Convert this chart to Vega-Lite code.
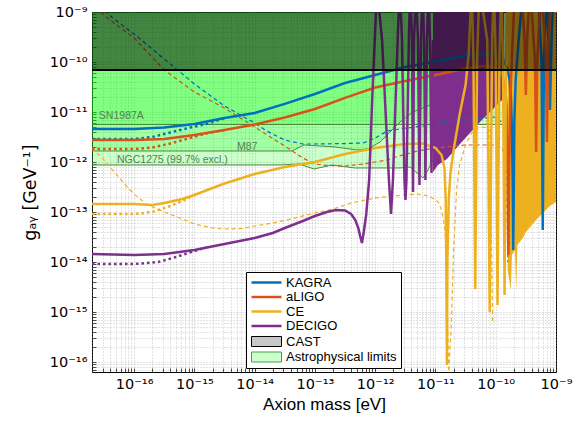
{
  "$schema": "https://vega.github.io/schema/vega-lite/v6.json",
  "width": 464,
  "height": 360,
  "autosize": {"type": "none"},
  "padding": {"left": 92, "top": 12, "right": 17, "bottom": 53},
  "config": {
    "font": "Liberation Sans",
    "view": {"stroke": "black", "strokeWidth": 1},
    "axis": {
      "labelFont": "DejaVu Sans", "labelFontSize": 14.5, "labelColor": "black",
      "titleFont": "DejaVu Sans", "titleFontSize": 17.5, "titleFontWeight": "normal", "titleColor": "black",
      "gridColor": "#9a9a9a", "gridDash": [1, 2], "gridWidth": 0.7, "gridOpacity": 0.8,
      "domain": false, "ticks": true, "tickSize": -4, "tickColor": "#222", "tickWidth": 0.8,
      "labelPadding": 9, "labelOverlap": false, "labelFlush": false, "labelBound": false
    }
  },
  "datasets": {
    "curves": [
      {"s":"KAGRA","v":"solid","m":2e-17,"g":4.57e-12},{"s":"KAGRA","v":"solid","m":1e-16,"g":4.57e-12},{"s":"KAGRA","v":"solid","m":3.16e-16,"g":4.9e-12},{"s":"KAGRA","v":"solid","m":1e-15,"g":5.75e-12},{"s":"KAGRA","v":"solid","m":3.16e-15,"g":7.59e-12},{"s":"KAGRA","v":"solid","m":1e-14,"g":9.55e-12},{"s":"KAGRA","v":"solid","m":3.16e-14,"g":1.45e-11},{"s":"KAGRA","v":"solid","m":1e-13,"g":2.29e-11},{"s":"KAGRA","v":"solid","m":3.16e-13,"g":3.8e-11},{"s":"KAGRA","v":"solid","m":1e-12,"g":5.5e-11},{"s":"KAGRA","v":"solid","m":3.16e-12,"g":7.94e-11},{"s":"KAGRA","v":"solid","m":1e-11,"g":1.02e-10},{"s":"KAGRA","v":"solid","m":3.16e-11,"g":1.35e-10},{"s":"KAGRA","v":"solid","m":6.31e-11,"g":1.45e-10},{"s":"KAGRA","v":"solid","m":1e-10,"g":1.41e-10},{"s":"KAGRA","v":"solid","m":1.26e-10,"g":1.2e-10},{"s":"KAGRA","v":"solid","m":1.41e-10,"g":1e-10},{"s":"KAGRA","v":"solid","m":1.58e-10,"g":6.92e-11},{"s":"KAGRA","v":"solid","m":1.7e-10,"g":4.37e-11},{"s":"KAGRA","v":"solid","m":1.78e-10,"g":2.19e-11},{"s":"KAGRA","v":"solid","m":1.86e-10,"g":4.37e-12},{"s":"KAGRA","v":"solid","m":1.91e-10,"g":4.37e-13},{"s":"KAGRA","v":"solid","m":1.95e-10,"g":1.74e-14},{"s":"KAGRA","v":"solid","m":2e-10,"g":4.37e-13},{"s":"KAGRA","v":"solid","m":2.04e-10,"g":6.92e-12},{"s":"KAGRA","v":"solid","m":2.14e-10,"g":4.37e-11},{"s":"KAGRA","v":"solid","m":2.4e-10,"g":2.75e-10},{"s":"KAGRA","v":"solid","m":2.63e-10,"g":1e-9},{"s":"KAGRA","v":"solid","m":3.16e-10,"g":3.16e-9},{"s":"KAGRA","v":"solid","m":5.01e-10,"g":3.16e-9},{"s":"KAGRA","v":"solid","m":5.75e-10,"g":1.1e-10},{"s":"KAGRA","v":"solid","m":6.03e-10,"g":4.37e-14},{"s":"KAGRA","v":"solid","m":6.31e-10,"g":1.1e-10},{"s":"KAGRA","v":"solid","m":7.08e-10,"g":3.16e-9},{"s":"KAGRA","v":"solid","m":7.41e-10,"g":4.37e-10},{"s":"KAGRA","v":"solid","m":7.94e-10,"g":1.1e-11},{"s":"KAGRA","v":"solid","m":8.51e-10,"g":4.37e-10},{"s":"KAGRA","v":"solid","m":9.33e-10,"g":3.16e-9},{"s":"KAGRA","v":"solid","m":1e-9,"g":3.16e-9},
      {"s":"KAGRA","v":"dotted","m":2e-17,"g":2.88e-12},{"s":"KAGRA","v":"dotted","m":1e-16,"g":2.88e-12},{"s":"KAGRA","v":"dotted","m":2e-16,"g":3.16e-12},{"s":"KAGRA","v":"dotted","m":3.98e-16,"g":3.89e-12},{"s":"KAGRA","v":"dotted","m":7.94e-16,"g":4.79e-12},{"s":"KAGRA","v":"dotted","m":1.58e-15,"g":5.75e-12},{"s":"KAGRA","v":"dotted","m":3.16e-15,"g":7.59e-12},
      {"s":"KAGRA","v":"dashed","m":2.82e-17,"g":1.38e-9},{"s":"KAGRA","v":"dashed","m":3.16e-17,"g":1.05e-9},{"s":"KAGRA","v":"dashed","m":6.31e-17,"g":5.5e-10},{"s":"KAGRA","v":"dashed","m":1e-16,"g":3.63e-10},{"s":"KAGRA","v":"dashed","m":3.16e-16,"g":1.15e-10},{"s":"KAGRA","v":"dashed","m":1e-15,"g":3.63e-11},{"s":"KAGRA","v":"dashed","m":3.16e-15,"g":1.32e-11},{"s":"KAGRA","v":"dashed","m":1e-14,"g":6.03e-12},{"s":"KAGRA","v":"dashed","m":1.58e-14,"g":4.17e-12},{"s":"KAGRA","v":"dashed","m":3.16e-14,"g":2.75e-12},{"s":"KAGRA","v":"dashed","m":6.31e-14,"g":2.29e-12},{"s":"KAGRA","v":"dashed","m":1e-13,"g":2.29e-12},{"s":"KAGRA","v":"dashed","m":3.16e-13,"g":2.34e-12},{"s":"KAGRA","v":"dashed","m":6.31e-13,"g":2.4e-12},{"s":"KAGRA","v":"dashed","m":1e-12,"g":3.02e-12},{"s":"KAGRA","v":"dashed","m":1.58e-12,"g":4.17e-12},{"s":"KAGRA","v":"dashed","m":2.51e-12,"g":4.57e-12},{"s":"KAGRA","v":"dashed","m":6.31e-12,"g":5.25e-12},{"s":"KAGRA","v":"dashed","m":1.58e-11,"g":6.31e-12},{"s":"KAGRA","v":"dashed","m":3.98e-11,"g":7.24e-12},{"s":"KAGRA","v":"dashed","m":1e-10,"g":7.94e-12},{"s":"KAGRA","v":"dashed","m":1.41e-10,"g":5.5e-12},{"s":"KAGRA","v":"dashed","m":1.58e-10,"g":3.47e-12},{"s":"KAGRA","v":"dashed","m":1.66e-10,"g":1.74e-14},
      {"s":"aLIGO","v":"solid","m":2e-17,"g":2.75e-12},{"s":"aLIGO","v":"solid","m":1e-16,"g":2.75e-12},{"s":"aLIGO","v":"solid","m":3.16e-16,"g":2.88e-12},{"s":"aLIGO","v":"solid","m":1e-15,"g":3.47e-12},{"s":"aLIGO","v":"solid","m":3.16e-15,"g":4.37e-12},{"s":"aLIGO","v":"solid","m":1e-14,"g":5.62e-12},{"s":"aLIGO","v":"solid","m":3.16e-14,"g":7.76e-12},{"s":"aLIGO","v":"solid","m":1e-13,"g":1.15e-11},{"s":"aLIGO","v":"solid","m":3.16e-13,"g":1.91e-11},{"s":"aLIGO","v":"solid","m":1e-12,"g":3.09e-11},{"s":"aLIGO","v":"solid","m":3.16e-12,"g":4.17e-11},{"s":"aLIGO","v":"solid","m":1e-11,"g":5.5e-11},{"s":"aLIGO","v":"solid","m":3.16e-11,"g":7.41e-11},{"s":"aLIGO","v":"solid","m":6.31e-11,"g":8.32e-11},{"s":"aLIGO","v":"solid","m":1e-10,"g":7.76e-11},{"s":"aLIGO","v":"solid","m":1.26e-10,"g":5.75e-11},{"s":"aLIGO","v":"solid","m":1.41e-10,"g":3.63e-11},{"s":"aLIGO","v":"solid","m":1.51e-10,"g":1.38e-11},{"s":"aLIGO","v":"solid","m":1.58e-10,"g":4.37e-13},{"s":"aLIGO","v":"solid","m":1.62e-10,"g":1.38e-14},{"s":"aLIGO","v":"solid","m":1.66e-10,"g":4.37e-13},{"s":"aLIGO","v":"solid","m":1.74e-10,"g":1.74e-11},{"s":"aLIGO","v":"solid","m":1.91e-10,"g":2.75e-10},{"s":"aLIGO","v":"solid","m":2.09e-10,"g":3.16e-9},{"s":"aLIGO","v":"solid","m":2.63e-10,"g":3.16e-9},{"s":"aLIGO","v":"solid","m":3.02e-10,"g":2.75e-10},{"s":"aLIGO","v":"solid","m":3.16e-10,"g":2.19e-11},{"s":"aLIGO","v":"solid","m":3.31e-10,"g":2.75e-10},{"s":"aLIGO","v":"solid","m":3.72e-10,"g":3.16e-9},{"s":"aLIGO","v":"solid","m":4.47e-10,"g":1.1e-10},{"s":"aLIGO","v":"solid","m":4.68e-10,"g":1.58e-12},{"s":"aLIGO","v":"solid","m":4.9e-10,"g":1.1e-10},{"s":"aLIGO","v":"solid","m":5.62e-10,"g":3.16e-9},{"s":"aLIGO","v":"solid","m":6.76e-10,"g":1.74e-10},{"s":"aLIGO","v":"solid","m":7.08e-10,"g":2.51e-12},{"s":"aLIGO","v":"solid","m":7.41e-10,"g":1.74e-10},{"s":"aLIGO","v":"solid","m":8.32e-10,"g":3.16e-9},{"s":"aLIGO","v":"solid","m":1e-9,"g":3.16e-9},
      {"s":"aLIGO","v":"dotted","m":2e-17,"g":1.82e-12},{"s":"aLIGO","v":"dotted","m":1e-16,"g":1.82e-12},{"s":"aLIGO","v":"dotted","m":2e-16,"g":1.95e-12},{"s":"aLIGO","v":"dotted","m":3.98e-16,"g":2.34e-12},{"s":"aLIGO","v":"dotted","m":7.94e-16,"g":2.95e-12},{"s":"aLIGO","v":"dotted","m":1.58e-15,"g":3.72e-12},{"s":"aLIGO","v":"dotted","m":3.16e-15,"g":4.37e-12},
      {"s":"aLIGO","v":"dashed","m":2.24e-17,"g":1.2e-9},{"s":"aLIGO","v":"dashed","m":3.98e-17,"g":6.92e-10},{"s":"aLIGO","v":"dashed","m":6.31e-17,"g":4.57e-10},{"s":"aLIGO","v":"dashed","m":1e-16,"g":3.02e-10},{"s":"aLIGO","v":"dashed","m":3.16e-16,"g":6.92e-11},{"s":"aLIGO","v":"dashed","m":1e-15,"g":2.51e-11},{"s":"aLIGO","v":"dashed","m":3.16e-15,"g":1.2e-11},{"s":"aLIGO","v":"dashed","m":1e-14,"g":5.01e-12},{"s":"aLIGO","v":"dashed","m":3.16e-14,"g":2.09e-12},{"s":"aLIGO","v":"dashed","m":6.31e-14,"g":1.2e-12},{"s":"aLIGO","v":"dashed","m":1e-13,"g":9.12e-13},{"s":"aLIGO","v":"dashed","m":1.58e-13,"g":8.51e-13},{"s":"aLIGO","v":"dashed","m":3.16e-13,"g":8.32e-13},{"s":"aLIGO","v":"dashed","m":6.31e-13,"g":9.12e-13},{"s":"aLIGO","v":"dashed","m":1e-12,"g":1e-12},{"s":"aLIGO","v":"dashed","m":1.58e-12,"g":1.1e-12},{"s":"aLIGO","v":"dashed","m":2.51e-12,"g":1.32e-12},{"s":"aLIGO","v":"dashed","m":5.01e-12,"g":1.66e-12},{"s":"aLIGO","v":"dashed","m":1e-11,"g":1.91e-12},{"s":"aLIGO","v":"dashed","m":3.16e-11,"g":2.19e-12},{"s":"aLIGO","v":"dashed","m":1e-10,"g":2.19e-12},{"s":"aLIGO","v":"dashed","m":1.26e-10,"g":1.91e-12},{"s":"aLIGO","v":"dashed","m":1.51e-10,"g":1.1e-12},{"s":"aLIGO","v":"dashed","m":1.58e-10,"g":1e-14},
      {"s":"CE","v":"solid","m":2e-17,"g":1.45e-13},{"s":"CE","v":"solid","m":1e-16,"g":1.45e-13},{"s":"CE","v":"solid","m":2e-16,"g":1.38e-13},{"s":"CE","v":"solid","m":3.16e-16,"g":1.51e-13},{"s":"CE","v":"solid","m":6.31e-16,"g":1.82e-13},{"s":"CE","v":"solid","m":1e-15,"g":2.19e-13},{"s":"CE","v":"solid","m":2e-15,"g":3.02e-13},{"s":"CE","v":"solid","m":3.16e-15,"g":3.72e-13},{"s":"CE","v":"solid","m":1e-14,"g":5.75e-13},{"s":"CE","v":"solid","m":3.16e-14,"g":7.94e-13},{"s":"CE","v":"solid","m":1e-13,"g":1e-12},{"s":"CE","v":"solid","m":3.16e-13,"g":1.45e-12},{"s":"CE","v":"solid","m":1e-12,"g":1.91e-12},{"s":"CE","v":"solid","m":3.16e-12,"g":2.29e-12},{"s":"CE","v":"solid","m":6.31e-12,"g":2.34e-12},{"s":"CE","v":"solid","m":1e-11,"g":1.91e-12},{"s":"CE","v":"solid","m":1.26e-11,"g":1.38e-12},{"s":"CE","v":"solid","m":1.41e-11,"g":7.59e-13},{"s":"CE","v":"solid","m":1.48e-11,"g":1.74e-13},{"s":"CE","v":"solid","m":1.51e-11,"g":1.1e-14},{"s":"CE","v":"solid","m":1.55e-11,"g":8.71e-17},{"s":"CE","v":"solid","m":1.58e-11,"g":1.1e-14},{"s":"CE","v":"solid","m":1.66e-11,"g":1.74e-13},{"s":"CE","v":"solid","m":1.78e-11,"g":6.31e-13},{"s":"CE","v":"solid","m":2e-11,"g":1.74e-12},{"s":"CE","v":"solid","m":2.51e-11,"g":8.71e-12},{"s":"CE","v":"solid","m":3.16e-11,"g":3.47e-11},{"s":"CE","v":"solid","m":3.55e-11,"g":1.38e-10},{"s":"CE","v":"solid","m":3.98e-11,"g":3.16e-9},{"s":"CE","v":"solid","m":4.27e-11,"g":1.1e-10},{"s":"CE","v":"solid","m":4.57e-11,"g":2.88e-15},{"s":"CE","v":"solid","m":4.9e-11,"g":1.1e-10},{"s":"CE","v":"solid","m":5.37e-11,"g":3.16e-9},{"s":"CE","v":"solid","m":7.24e-11,"g":2.75e-10},{"s":"CE","v":"solid","m":7.94e-11,"g":1e-15},{"s":"CE","v":"solid","m":8.71e-11,"g":2.75e-10},{"s":"CE","v":"solid","m":9.33e-11,"g":3.16e-9},{"s":"CE","v":"solid","m":1e-10,"g":1.1e-10},{"s":"CE","v":"solid","m":1.07e-10,"g":1.38e-15},{"s":"CE","v":"solid","m":1.15e-10,"g":1.1e-10},{"s":"CE","v":"solid","m":1.23e-10,"g":3.16e-9},{"s":"CE","v":"solid","m":1.32e-10,"g":1.1e-10},{"s":"CE","v":"solid","m":1.4e-10,"g":2.19e-15},{"s":"CE","v":"solid","m":1.48e-10,"g":1.1e-10},{"s":"CE","v":"solid","m":1.58e-10,"g":3.16e-9},
      {"s":"CE","v":"dotted","m":2e-17,"g":9.12e-14},{"s":"CE","v":"dotted","m":1e-16,"g":9.12e-14},{"s":"CE","v":"dotted","m":2e-16,"g":1e-13},{"s":"CE","v":"dotted","m":3.98e-16,"g":1.32e-13},{"s":"CE","v":"dotted","m":6.31e-16,"g":1.66e-13},{"s":"CE","v":"dotted","m":1e-15,"g":2.19e-13},
      {"s":"CE","v":"dashed","m":2e-17,"g":1.91e-12},{"s":"CE","v":"dashed","m":3.16e-17,"g":1.1e-12},{"s":"CE","v":"dashed","m":5.01e-17,"g":5.75e-13},{"s":"CE","v":"dashed","m":7.94e-17,"g":3.02e-13},{"s":"CE","v":"dashed","m":1e-16,"g":2.29e-13},{"s":"CE","v":"dashed","m":1.58e-16,"g":1.45e-13},{"s":"CE","v":"dashed","m":3.16e-16,"g":1e-13},{"s":"CE","v":"dashed","m":6.31e-16,"g":7.24e-14},{"s":"CE","v":"dashed","m":1e-15,"g":5.75e-14},{"s":"CE","v":"dashed","m":2e-15,"g":4.79e-14},{"s":"CE","v":"dashed","m":3.16e-15,"g":4.57e-14},{"s":"CE","v":"dashed","m":6.31e-15,"g":4.68e-14},{"s":"CE","v":"dashed","m":1e-14,"g":5.25e-14},{"s":"CE","v":"dashed","m":2e-14,"g":6.03e-14},{"s":"CE","v":"dashed","m":3.98e-14,"g":7.24e-14},{"s":"CE","v":"dashed","m":1e-13,"g":9.55e-14},{"s":"CE","v":"dashed","m":2e-13,"g":1.15e-13},{"s":"CE","v":"dashed","m":3.98e-13,"g":1.51e-13},{"s":"CE","v":"dashed","m":1e-12,"g":1.91e-13},{"s":"CE","v":"dashed","m":2e-12,"g":2.09e-13},{"s":"CE","v":"dashed","m":5.01e-12,"g":2.29e-13},{"s":"CE","v":"dashed","m":7.94e-12,"g":2.09e-13},{"s":"CE","v":"dashed","m":1.12e-11,"g":1.58e-13},{"s":"CE","v":"dashed","m":1.26e-11,"g":1.1e-13},{"s":"CE","v":"dashed","m":1.41e-11,"g":5.5e-14},{"s":"CE","v":"dashed","m":1.51e-11,"g":1.74e-14},{"s":"CE","v":"dashed","m":1.66e-11,"g":6.31e-17},{"s":"CE","v":"dashed","m":1.82e-11,"g":4.37e-16},{"s":"CE","v":"dashed","m":2e-11,"g":1.74e-14},{"s":"CE","v":"dashed","m":2.24e-11,"g":2.75e-13},{"s":"CE","v":"dashed","m":2.51e-11,"g":8.71e-13},{"s":"CE","v":"dashed","m":3.16e-11,"g":2.19e-12},{"s":"CE","v":"dashed","m":3.98e-11,"g":3.8e-12},{"s":"CE","v":"dashed","m":5.01e-11,"g":4.79e-12},{"s":"CE","v":"dashed","m":6.31e-11,"g":5.01e-12},{"s":"CE","v":"dashed","m":7.94e-11,"g":4.37e-12},{"s":"CE","v":"dashed","m":8.91e-11,"g":6.03e-16},
      {"s":"DECIGO","v":"solid","m":2e-17,"g":1.45e-14},{"s":"DECIGO","v":"solid","m":1e-16,"g":1.38e-14},{"s":"DECIGO","v":"solid","m":3.16e-16,"g":1.45e-14},{"s":"DECIGO","v":"solid","m":1e-15,"g":1.74e-14},{"s":"DECIGO","v":"solid","m":3.16e-15,"g":2.29e-14},{"s":"DECIGO","v":"solid","m":1e-14,"g":3.02e-14},{"s":"DECIGO","v":"solid","m":2e-14,"g":3.8e-14},{"s":"DECIGO","v":"solid","m":3.16e-14,"g":4.79e-14},{"s":"DECIGO","v":"solid","m":6.31e-14,"g":6.61e-14},{"s":"DECIGO","v":"solid","m":1e-13,"g":8.32e-14},{"s":"DECIGO","v":"solid","m":1.58e-13,"g":1e-13},{"s":"DECIGO","v":"solid","m":2.24e-13,"g":1.1e-13},{"s":"DECIGO","v":"solid","m":3.16e-13,"g":1.07e-13},{"s":"DECIGO","v":"solid","m":3.98e-13,"g":9.12e-14},{"s":"DECIGO","v":"solid","m":4.68e-13,"g":6.92e-14},{"s":"DECIGO","v":"solid","m":5.25e-13,"g":4.79e-14},{"s":"DECIGO","v":"solid","m":5.62e-13,"g":3.31e-14},{"s":"DECIGO","v":"solid","m":6.03e-13,"g":2.4e-14},{"s":"DECIGO","v":"solid","m":6.46e-13,"g":3.98e-14},{"s":"DECIGO","v":"solid","m":7.08e-13,"g":8.71e-14},{"s":"DECIGO","v":"solid","m":7.94e-13,"g":4.37e-13},{"s":"DECIGO","v":"solid","m":8.91e-13,"g":1.74e-11},{"s":"DECIGO","v":"solid","m":1e-12,"g":4.37e-10},{"s":"DECIGO","v":"solid","m":1.07e-12,"g":3.16e-9},{"s":"DECIGO","v":"solid","m":1.3e-12,"g":2.75e-10},{"s":"DECIGO","v":"solid","m":1.69e-12,"g":4.37e-13},{"s":"DECIGO","v":"solid","m":1.83e-12,"g":9.12e-14},{"s":"DECIGO","v":"solid","m":1.97e-12,"g":4.37e-13},{"s":"DECIGO","v":"solid","m":2.39e-12,"g":4.37e-10},{"s":"DECIGO","v":"solid","m":2.58e-12,"g":3.16e-9},{"s":"DECIGO","v":"solid","m":2.78e-12,"g":2.75e-10},{"s":"DECIGO","v":"solid","m":3.06e-12,"g":4.37e-13},{"s":"DECIGO","v":"solid","m":3.18e-12,"g":1.74e-13},{"s":"DECIGO","v":"solid","m":3.3e-12,"g":4.37e-13},{"s":"DECIGO","v":"solid","m":3.64e-12,"g":4.37e-10},{"s":"DECIGO","v":"solid","m":3.85e-12,"g":3.16e-9},{"s":"DECIGO","v":"solid","m":4.07e-12,"g":2.75e-10},{"s":"DECIGO","v":"solid","m":4.24e-12,"g":2.51e-13},{"s":"DECIGO","v":"solid","m":4.41e-12,"g":2.75e-10},{"s":"DECIGO","v":"solid","m":4.75e-12,"g":3.16e-9},{"s":"DECIGO","v":"solid","m":5.13e-12,"g":2.75e-10},{"s":"DECIGO","v":"solid","m":5.43e-12,"g":3.47e-13},{"s":"DECIGO","v":"solid","m":5.75e-12,"g":2.75e-10},{"s":"DECIGO","v":"solid","m":6.1e-12,"g":3.16e-9},{"s":"DECIGO","v":"solid","m":6.46e-12,"g":2.75e-10},{"s":"DECIGO","v":"solid","m":6.82e-12,"g":4.37e-13},{"s":"DECIGO","v":"solid","m":7.23e-12,"g":2.75e-10},{"s":"DECIGO","v":"solid","m":7.66e-12,"g":3.16e-9},{"s":"DECIGO","v":"solid","m":8.11e-12,"g":2.75e-10},{"s":"DECIGO","v":"solid","m":8.59e-12,"g":6.03e-13},{"s":"DECIGO","v":"solid","m":9.1e-12,"g":2.75e-10},
      {"s":"DECIGO","v":"dotted","m":2e-17,"g":9.12e-15},{"s":"DECIGO","v":"dotted","m":1e-16,"g":9.12e-15},{"s":"DECIGO","v":"dotted","m":2.51e-16,"g":1e-14},{"s":"DECIGO","v":"dotted","m":5.01e-16,"g":1.26e-14},{"s":"DECIGO","v":"dotted","m":1e-15,"g":1.66e-14},{"s":"DECIGO","v":"dotted","m":1.58e-15,"g":1.95e-14}
    ],
    "fills": [
      {"s":"DECIGO","m":9.1e-12,"g":6.31e-13},{"s":"DECIGO","m":1.1e-11,"g":8.71e-13},{"s":"DECIGO","m":1.55e-11,"g":1.15e-12},{"s":"DECIGO","m":2.55e-11,"g":2.29e-12},{"s":"DECIGO","m":5.48e-11,"g":6.31e-12},{"s":"DECIGO","m":1.05e-10,"g":1.38e-11},{"s":"DECIGO","m":1.37e-10,"g":1.91e-11},
      {"s":"CE","m":1.58e-10,"g":6.92e-15},{"s":"CE","m":1.78e-10,"g":2.75e-15},{"s":"CE","m":1.86e-10,"g":1.38e-14},{"s":"CE","m":2.09e-10,"g":1.74e-14},{"s":"CE","m":2.19e-10,"g":2.75e-15},{"s":"CE","m":2.29e-10,"g":2.19e-14},{"s":"CE","m":2.82e-10,"g":3.02e-14},{"s":"CE","m":3.16e-10,"g":3.98e-14},{"s":"CE","m":3.98e-10,"g":5.5e-14},{"s":"CE","m":5.01e-10,"g":7.59e-14},{"s":"CE","m":6.31e-10,"g":1e-13},{"s":"CE","m":7.94e-10,"g":1.32e-13},{"s":"CE","m":1e-9,"g":1.58e-13}
    ],
    "astro": [
      {"r":"SN","m":2e-17,"g":5.62e-12},{"r":"SN","m":3.98e-10,"g":5.62e-12},{"r":"SN","m":5.01e-10,"g":6.31e-12},{"r":"SN","m":6.31e-10,"g":7.41e-12},{"r":"SN","m":7.94e-10,"g":8.91e-12},{"r":"SN","m":1e-9,"g":1.1e-11},
      {"r":"M87","m":2e-17,"g":1.66e-12},{"r":"M87","m":4.16e-14,"g":1.66e-12},{"r":"M87","m":5.24e-14,"g":1.91e-12},{"r":"M87","m":6.58e-14,"g":2.19e-12},{"r":"M87","m":2.15e-13,"g":2e-12},{"r":"M87","m":4.99e-13,"g":1.74e-12},{"r":"M87","m":7.59e-13,"g":1.82e-12},{"r":"M87","m":1.2e-12,"g":2.51e-12},{"r":"M87","m":2.58e-12,"g":6.31e-12},{"r":"M87","m":4.24e-12,"g":1e-11},{"r":"M87","m":9.1e-12,"g":1.45e-11},
      {"r":"NGC","m":2e-17,"g":8.71e-13},{"r":"NGC","m":2.53e-14,"g":8.71e-13},{"r":"NGC","m":5.43e-14,"g":9.12e-13},{"r":"NGC","m":9.64e-14,"g":7.24e-13},{"r":"NGC","m":1.92e-13,"g":8.71e-13},{"r":"NGC","m":4.61e-13,"g":7.59e-13},{"r":"NGC","m":2.58e-12,"g":7.59e-13},{"r":"NGC","m":3.78e-12,"g":7.94e-13},{"r":"NGC","m":6.21e-12,"g":4.79e-13},{"r":"NGC","m":7.23e-12,"g":6.31e-13},{"r":"NGC","m":1.06e-11,"g":1.58e-12},{"r":"NGC","m":1.55e-11,"g":3.98e-12}
    ],
    "labels": [
      {"t":"SN1987A","m":2.6e-17,"g":8.3e-12},
      {"t":"M87","m":5.08e-15,"g":2.0e-12},
      {"t":"NGC1275 (99.7% excl.)","m":5.19e-17,"g":1.12e-12}
    ],
    "cast": [{"m":2e-17,"m2":1e-9,"g":6.9e-11,"g2":1e-9}]
  },
  "encoding": {
    "x": {
      "field": "m", "type": "quantitative",
      "scale": {"type": "log", "domain": [2e-17, 1e-9], "nice": false},
      "axis": {
        "title": "Axion mass [eV]", "titlePadding": 6, "titleFont": "Liberation Sans", "titleFontSize": 17,
        "values": [2e-17,3e-17,4e-17,5e-17,6e-17,7e-17,8e-17,9e-17,1e-16,2e-16,3e-16,4e-16,5e-16,6e-16,7e-16,8e-16,9e-16,1e-15,2e-15,3e-15,4e-15,5e-15,6e-15,7e-15,8e-15,9e-15,1e-14,2e-14,3e-14,4e-14,5e-14,6e-14,7e-14,8e-14,9e-14,1e-13,2e-13,3e-13,4e-13,5e-13,6e-13,7e-13,8e-13,9e-13,1e-12,2e-12,3e-12,4e-12,5e-12,6e-12,7e-12,8e-12,9e-12,1e-11,2e-11,3e-11,4e-11,5e-11,6e-11,7e-11,8e-11,9e-11,1e-10,2e-10,3e-10,4e-10,5e-10,6e-10,7e-10,8e-10,9e-10,1e-9],
        "labelExpr": "abs(log(datum.value)/LN10 - round(log(datum.value)/LN10)) < 0.001 ? '10' + (round(-log(datum.value)/LN10) >= 10 ? '⁻¹' + ['⁰','¹','²','³','⁴','⁵','⁶','⁷','⁸','⁹'][round(-log(datum.value)/LN10) - 10] : '⁻' + ['⁰','¹','²','³','⁴','⁵','⁶','⁷','⁸','⁹'][round(-log(datum.value)/LN10)]) : ''"
      }
    },
    "y": {
      "field": "g", "type": "quantitative",
      "scale": {"type": "log", "domain": [6.31e-17, 1e-9], "nice": false},
      "axis": {
        "title": "gₐᵧ [GeV⁻¹]", "titlePadding": 10,
        "values": [7e-17,8e-17,9e-17,1e-16,2e-16,3e-16,4e-16,5e-16,6e-16,7e-16,8e-16,9e-16,1e-15,2e-15,3e-15,4e-15,5e-15,6e-15,7e-15,8e-15,9e-15,1e-14,2e-14,3e-14,4e-14,5e-14,6e-14,7e-14,8e-14,9e-14,1e-13,2e-13,3e-13,4e-13,5e-13,6e-13,7e-13,8e-13,9e-13,1e-12,2e-12,3e-12,4e-12,5e-12,6e-12,7e-12,8e-12,9e-12,1e-11,2e-11,3e-11,4e-11,5e-11,6e-11,7e-11,8e-11,9e-11,1e-10,2e-10,3e-10,4e-10,5e-10,6e-10,7e-10,8e-10,9e-10,1e-9],
        "labelExpr": "abs(log(datum.value)/LN10 - round(log(datum.value)/LN10)) < 0.001 ? '10' + (round(-log(datum.value)/LN10) >= 10 ? '⁻¹' + ['⁰','¹','²','³','⁴','⁵','⁶','⁷','⁸','⁹'][round(-log(datum.value)/LN10) - 10] : '⁻' + ['⁰','¹','²','³','⁴','⁵','⁶','⁷','⁸','⁹'][round(-log(datum.value)/LN10)]) : ''"
      }
    }
  },
  "layer": [
    {
      "data": {"name": "astro"},
      "mark": {"type": "area", "color": "#00ff00", "opacity": 0.2, "clip": true},
      "encoding": {"detail": {"field": "r"}, "y2": {"datum": 1e-9}}
    },
    {
      "data": {"name": "astro"},
      "mark": {"type": "line", "color": "#4a8c3c", "strokeWidth": 1, "clip": true},
      "encoding": {"detail": {"field": "r"}}
    },
    {
      "data": {"name": "labels"},
      "mark": {"type": "text", "align": "left", "baseline": "middle", "fontSize": 10.5, "color": "#567d56", "font": "Liberation Sans"},
      "encoding": {"text": {"field": "t"}}
    },
    {
      "data": {"name": "fills"},
      "transform": [{"filter": "datum.s == 'DECIGO'"}],
      "mark": {"type": "area", "color": "#7E2F8E", "clip": true},
      "encoding": {"y2": {"datum": 1e-9}}
    },
    {
      "data": {"name": "fills"},
      "transform": [{"filter": "datum.s == 'CE'"}],
      "mark": {"type": "area", "color": "#EDB120", "clip": true},
      "encoding": {"y2": {"datum": 1e-9}}
    },
    {
      "data": {"name": "curves"},
      "transform": [{"filter": "datum.v == 'dashed'"}],
      "mark": {"type": "line", "strokeWidth": 1.2, "strokeDash": [4, 3], "clip": true},
      "encoding": {"color": {"field": "s", "type": "nominal"}}
    },
    {
      "data": {"name": "curves"},
      "transform": [{"filter": "datum.v == 'dotted'"}],
      "mark": {"type": "line", "strokeWidth": 2.5, "strokeDash": [2.5, 3], "clip": true},
      "encoding": {"color": {"field": "s", "type": "nominal"}}
    },
    {
      "data": {"name": "curves"},
      "transform": [{"filter": "datum.v == 'solid'"}],
      "mark": {"type": "line", "strokeWidth": 2.5, "clip": true},
      "encoding": {
        "color": {
          "field": "s", "type": "nominal",
          "scale": {"domain": ["KAGRA", "aLIGO", "CE", "DECIGO", "CAST", "Astrophysical limits"], "range": ["#0072BD", "#D95319", "#EDB120", "#7E2F8E", "#000000", "#4a9a4a"]},
          "legend": {
            "title": null, "orient": "none", "legendX": 154, "legendY": 260,
            "fillColor": "white", "strokeColor": "black", "padding": 4, "cornerRadius": 0,
            "labelFont": "Liberation Sans", "labelFontSize": 13, "labelColor": "black",
            "symbolSize": 100, "symbolStrokeWidth": 2.5, "symbolType": "stroke",
            "labelOffset": 23, "rowPadding": 0.5,
            "encode": {
              "symbols": {
                "update": {
                  "shape": {"signal": "(datum.value == 'CAST' || datum.value == 'Astrophysical limits') ? 'M-1,-1H5V1H-1Z' : 'M-1,0H5'"},
                  "fill": {"signal": "datum.value == 'CAST' ? '#c8c8c8' : (datum.value == 'Astrophysical limits' ? '#ccffcc' : 'transparent')"},
                  "strokeWidth": {"signal": "(datum.value == 'CAST' || datum.value == 'Astrophysical limits') ? 1 : 2.5"},
                  "opacity": {"value": 1}
                }
              }
            }
          }
        }
      }
    },
    {
      "data": {"name": "cast"},
      "mark": {"type": "rect", "color": "black", "opacity": 0.48},
      "encoding": {"x2": {"field": "m2"}, "y2": {"field": "g2"}}
    },
    {
      "data": {"name": "cast"},
      "mark": {"type": "rule", "color": "black", "strokeWidth": 2},
      "encoding": {"x2": {"field": "m2"}}
    }
  ]
}
